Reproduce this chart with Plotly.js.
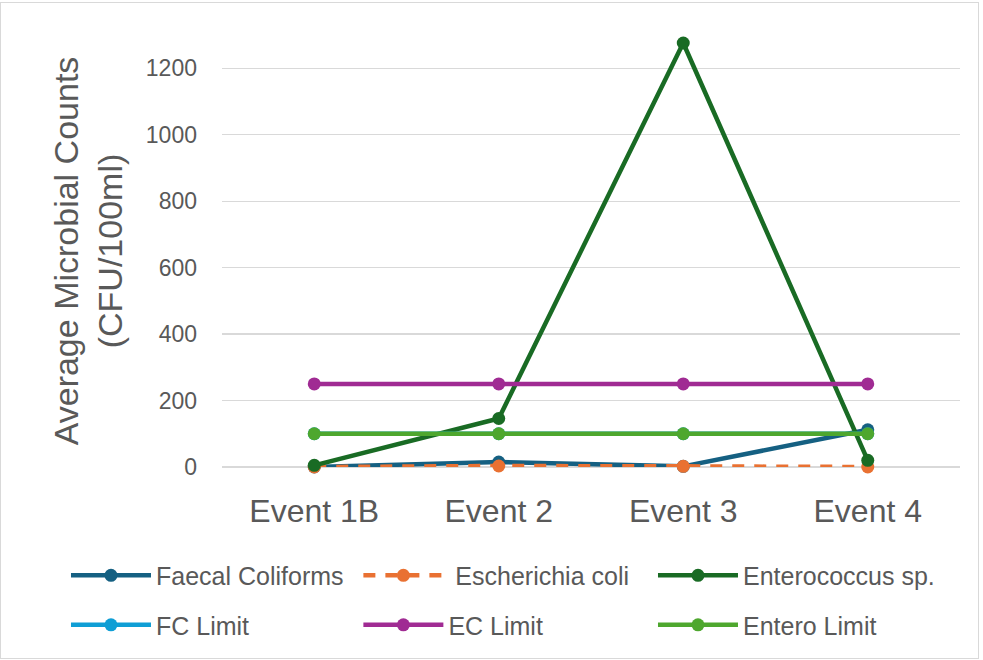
<!DOCTYPE html>
<html>
<head>
<meta charset="utf-8">
<script src="https://cdn.plot.ly/plotly-3.0.1.min.js"></script>
<style>
html,body{margin:0;padding:0;background:#fff;}
#chart{width:983px;height:660px;position:absolute;left:0;top:0;}
#frame{position:absolute;left:0;top:2px;width:977px;height:655px;border:1px solid #d9d9d9;pointer-events:none;}
</style>
</head>
<body>
<div id="chart"></div>
<div id="frame"></div>
<script>
const events = ["Event 1B", "Event 2", "Event 3", "Event 4"];
const faecalColiforms = [0, 15, 2, 112];
const escherichiaColi = [0, 3, 2, 0];
const enterococcus = [5, 146, 1276, 20];
const fcLimit = [100, 100, 100, 100];
const ecLimit = [250, 250, 250, 250];
const enteroLimit = [100, 100, 100, 100];
const yTicks = [0, 200, 400, 600, 800, 1000, 1200];

const seriesNames = ["Faecal Coliforms", " Escherichia coli", "Enterococcus sp.", "FC Limit", "EC Limit", "Entero Limit"];
const seriesData = [faecalColiforms, escherichiaColi, enterococcus, fcLimit, ecLimit, enteroLimit];
const colors = ["#156082", "#E97132", "#196B24", "#0F9ED5", "#A02B93", "#4EA72E"];
const dashes = ["solid", "12px,10px", "solid", "solid", "solid", "solid"];
const legendIds = ["legend", "legend2", "legend3", "legend", "legend2", "legend3"];

const traces = seriesNames.map((n, i) => ({
  type: "scatter",
  mode: "lines+markers",
  name: n,
  x: events,
  y: seriesData[i],
  legend: legendIds[i],
  legendgroup: "g" + i,
  line: {color: colors[i], width: 4.5, dash: dashes[i]},
  marker: {color: colors[i], size: 13},
  cliponaxis: false
}));

function leg(xp) {
  return {
    orientation: "v",
    x: xp, xanchor: "left",
    y: -0.418, yanchor: "bottom",
    font: {size: 25, color: "#595959"},
    itemwidth: 80,
    tracegroupgap: 14,
    bgcolor: "rgba(0,0,0,0)"
  };
}

const layout = {
  width: 983, height: 660,
  margin: {l: 222, r: 23, t: 35, b: 193},
  paper_bgcolor: "#fff", plot_bgcolor: "#fff",
  font: {family: "Liberation Sans, Arial, sans-serif", color: "#595959"},
  showlegend: true,
  xaxis: {
    type: "category",
    range: [-0.5, 3.5],
    automargin: false,
    showgrid: false, zeroline: false, showline: false,
    ticks: "",
    tickfont: {size: 32, color: "#595959"},
    ticklabelstandoff: 22
  },
  yaxis: {
    range: [0, 1300],
    automargin: false,
    tickvals: yTicks,
    ticktext: yTicks.map(String),
    showgrid: true, gridcolor: "#d9d9d9", gridwidth: 1.3,
    zeroline: true, zerolinecolor: "#d9d9d9", zerolinewidth: 1.3,
    showline: false,
    ticks: "",
    tickfont: {size: 23, color: "#595959"},
    ticklabelstandoff: 24,
    title: {text: "Average Microbial Counts<br>(CFU/100ml)", font: {size: 34, color: "#595959"}, standoff: 12}
  },
  legend: leg(-0.2114),
  legend2: leg(0.1848),
  legend3: leg(0.5840)
};

Plotly.newPlot("chart", traces, layout, {displayModeBar: false, staticPlot: true});
</script>
</body>
</html>
